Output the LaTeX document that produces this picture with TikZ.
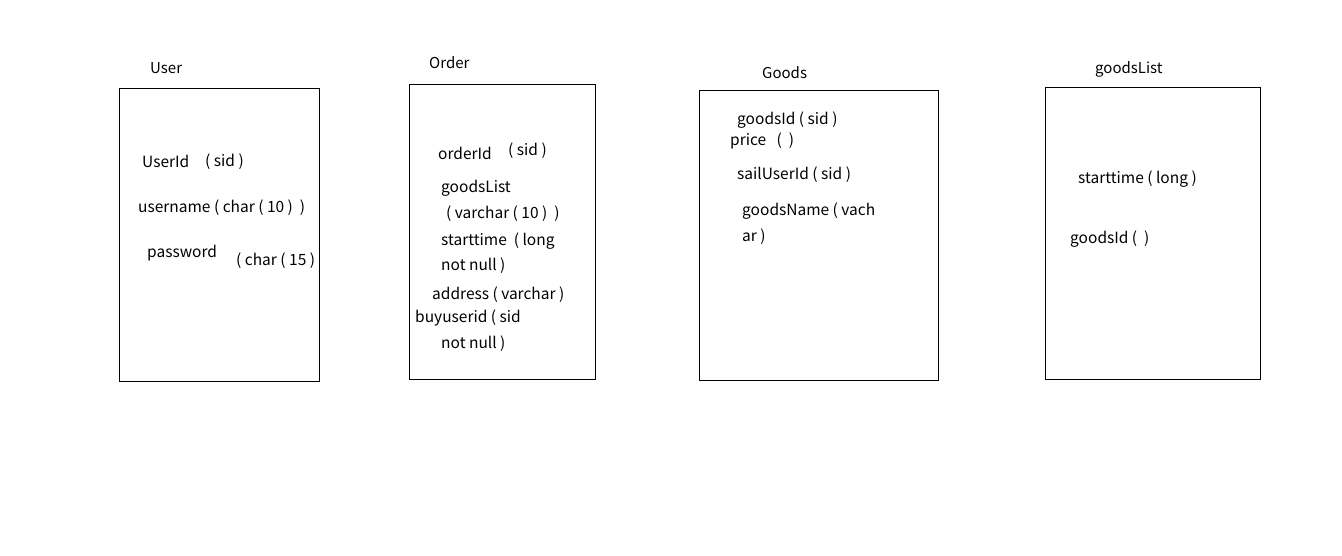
\documentclass[tikz,border=0pt]{standalone}
\usepackage{fontspec}
\newfontfamily\cjk{Noto Sans CJK SC}

\tikzset{
  table/.style={draw, line width=1pt},
  title/.style={anchor=west, inner sep=0pt, font=\cjk\fontsize{15}{17}\selectfont},
  field/.style={anchor=west, inner sep=0pt, font=\cjk\fontsize{15.5}{17}\selectfont}
}

\begin{document}
\begin{tikzpicture}[x=1pt, y=-1pt]
  \useasboundingbox (0,0) rectangle (1342,556);

  % 四个表格框
  \draw[table] (119,89) rectangle (319,381);
  \draw[table] (409,85) rectangle (595,379);
  \draw[table] (699,91) rectangle (938,380);
  \draw[table] (1045,88) rectangle (1260,379);

  % 表名
  \node[title] (tUser)  at (150,68)  {User};
  \node[title] (tOrder) at (429,63)  {Order};
  \node[title] (tGoods) at (762,73)  {Goods};
  \node[title] (tList)  at (1095,69) {goodsList};

  % User
  \node[field] (uId)    at (142,161) {UserId};
  \node[field] (uIdT)   at (205,162) {( sid )};
  \node[field] (uName)  at (138,208) {username ( char ( 10 )~~)};
  \node[field] (uPwd)   at (147,253) {password};
  \node[field] (uPwdT)  at (236,261) {( char ( 15 )};

  % Order
  \node[field] (oId)    at (438,153) {orderId};
  \node[field] (oIdT)   at (508,151) {( sid )};
  \node[field] (oList)  at (441,188) {goodsList};
  \node[field] (oListT) at (446,214) {( varchar ( 10 )~~)};
  \node[field] (oTime)  at (441,241) {starttime~~( long};
  \node[field] (oTimeN) at (441,266) {not null )};
  \node[field] (oAddr)  at (432,295) {address ( varchar )};
  \node[field] (oBuy)   at (415,318) {buyuserid ( sid};
  \node[field] (oBuyN)  at (441,344) {not null )};

  % Goods
  \node[field] (gId)    at (737,120) {goodsId ( sid )};
  \node[field] (gPrice) at (730,141) {price~~~(~~)};
  \node[field] (gSail)  at (737,175) {sailUserId ( sid )};
  \node[field] (gName)  at (742,211) {goodsName ( vach};
  \node[field] (gNameB) at (742,237) {ar )};

  % goodsList
  \node[field] (lTime)  at (1078,179) {starttime ( long )};
  \node[field] (lId)    at (1070,239) {goodsId (~~)};
\end{tikzpicture}
\end{document}
